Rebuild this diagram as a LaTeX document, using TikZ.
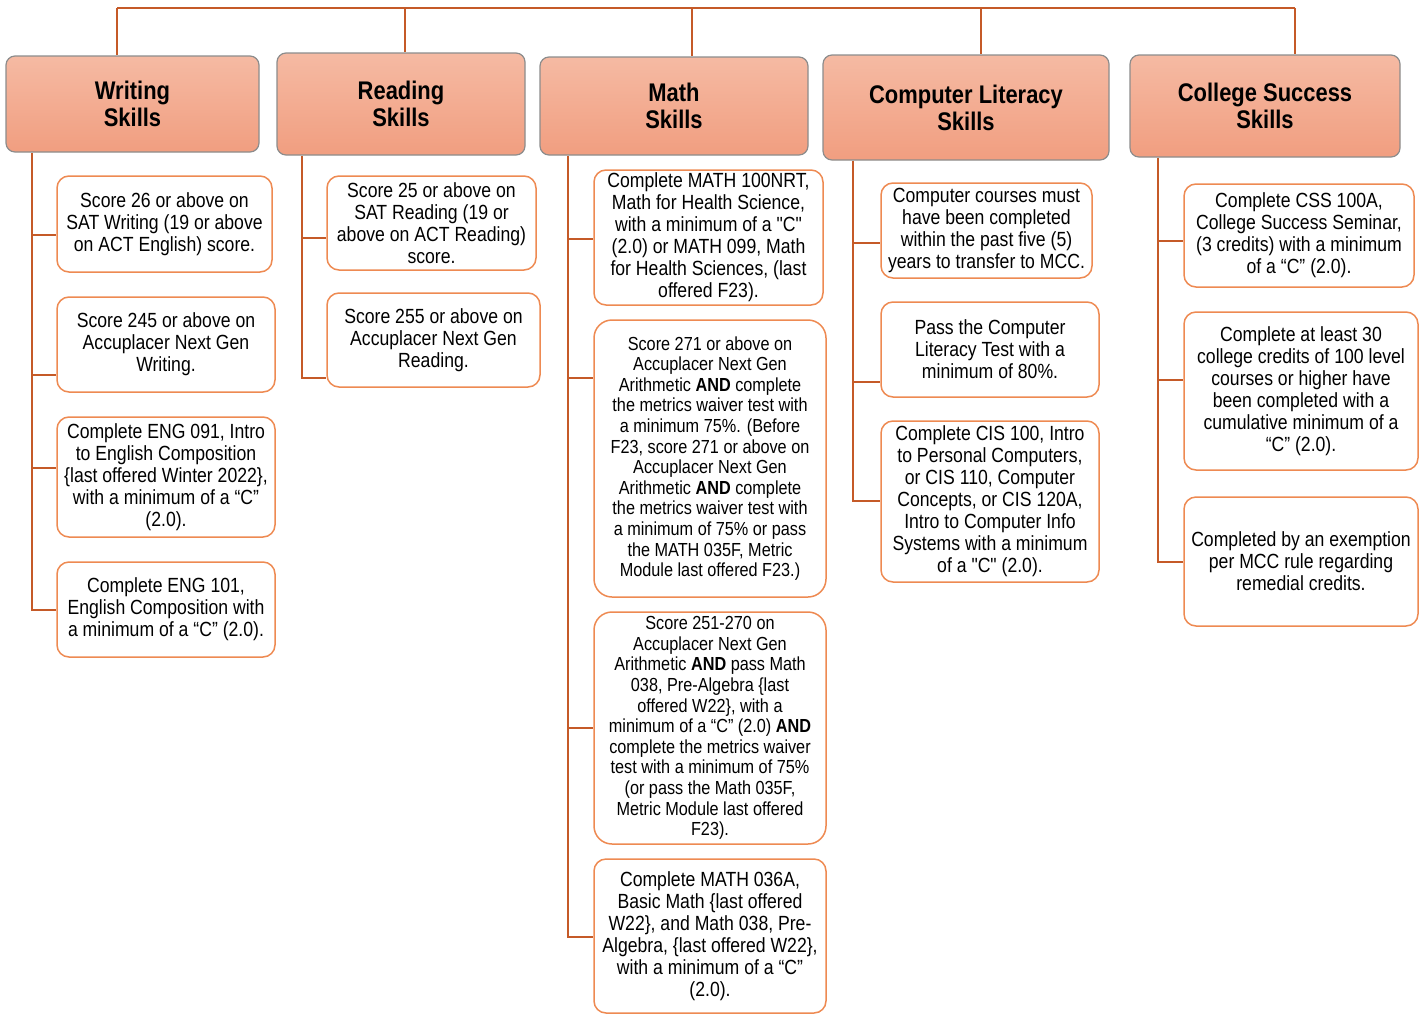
\documentclass[tikz,border=0pt]{standalone}
\usepackage{fontspec}
\setmainfont{Liberation Sans}[FakeStretch=0.86]
\newfontfamily\plainq{Liberation Sans}[FakeStretch=0.86]
\newcommand\sq{{\plainq"}}
\definecolor{linec}{HTML}{C55A28}
\definecolor{kidc}{HTML}{EE8A52}
\definecolor{hdrb}{HTML}{8C8C8C}
\definecolor{hdrt}{HTML}{F5BAA3}
\definecolor{hdrbot}{HTML}{F19E80}
\tikzset{
  x=1pt, y=-1pt,
  hdr/.style={draw=hdrb, line width=1.2pt, rounded corners=9pt, top color=hdrt, bottom color=hdrbot,
    font=\bfseries\fontsize{25.5}{27}\selectfont, align=center, inner sep=0pt},
  kid/.style={draw=kidc, line width=1.5pt, rounded corners=12pt, fill=white,
    font=\fontsize{20.5}{22}\selectfont, align=center, inner sep=0pt},
  kidsm/.style={kid, font=\fontsize{18.9}{20.6}\selectfont, rounded corners=18pt},
  conn/.style={draw=linec, line width=2.7pt},
  topconn/.style={draw=linec, line width=2pt},
}
\newcommand\boxat[7]{\node[#1, minimum width={#5pt-#3pt}, minimum height={#6pt-#4pt}] (#2) at ({(#3+#5)/2},{(#4+#6)/2}) {#7};}
\begin{document}
\begin{tikzpicture}
\useasboundingbox (0,0) rectangle (1424,1015);
% headers
\boxat{hdr}{hW}{6}{56}{259}{152}{Writing\\Skills}
\boxat{hdr}{hR}{277}{53}{525}{155}{Reading\\Skills}
\boxat{hdr}{hM}{540}{57}{808}{155}{Math\\Skills}
\boxat{hdr}{hC}{823}{55}{1109}{160}{Computer Literacy\\Skills}
\boxat{hdr}{hS}{1130}{55}{1400}{157}{College Success\\Skills}
% top connectors
\coordinate (tW) at (117,8);
\coordinate (tR) at (405,8);
\coordinate (tM) at (692,8);
\coordinate (tC) at (981,8);
\coordinate (tS) at (1295,8);
\draw[topconn] (tW) -- (tS);
\draw[topconn] (tW) -- (tW |- hW.north);
\draw[topconn] (tR) -- (tR |- hR.north);
\draw[topconn] (tM) -- (tM |- hM.north);
\draw[topconn] (tC) -- (tC |- hC.north);
\draw[topconn] (tS) -- (tS |- hS.north);
% writing
\boxat{kid}{w1}{57}{176}{272}{272}{Score 26 or above on\\SAT Writing (19 or above\\on ACT English) score.}
\boxat{kid}{w2}{57}{297}{275}{392}{Score 245 or above on\\Accuplacer Next Gen\\Writing.}
\boxat{kid}{w3}{57}{417}{275}{537}{Complete ENG 091, Intro\\to English Composition\\\{last offered Winter 2022\},\\with a minimum of a “C”\\(2.0).}
\boxat{kid}{w4}{57}{562}{275}{657}{Complete ENG 101,\\English Composition with\\a minimum of a “C” (2.0).}
% reading
\boxat{kid}{r1}{327}{176}{536}{270}{Score 25 or above on\\SAT Reading (19 or\\above on ACT Reading)\\score.}
\boxat{kid}{r2}{327}{293}{540}{387}{Score 255 or above on\\Accuplacer Next Gen\\Reading.}
% math
\boxat{kid}{m1}{594}{170}{823}{305}{Complete MATH 100NRT,\\Math for Health Science,\\with a minimum of a \sq C\sq\\(2.0) or MATH 099, Math\\for Health Sciences, (last\\offered F23).}
\boxat{kidsm}{m2}{594}{320}{826}{597}{Score 271 or above on\\Accuplacer Next Gen\\Arithmetic \textbf{AND} complete\\the metrics waiver test with\\a minimum 75\%. (Before\\F23, score 271 or above on\\Accuplacer Next Gen\\Arithmetic \textbf{AND} complete\\the metrics waiver test with\\a minimum of 75\% or pass\\the MATH 035F, Metric\\Module last offered F23.)}
\boxat{kidsm}{m3}{594}{612}{826}{844}{Score 251-270 on\\Accuplacer Next Gen\\Arithmetic \textbf{AND} pass Math\\038, Pre-Algebra \{last\\offered W22\}, with a\\minimum of a “C” (2.0) \textbf{AND}\\complete the metrics waiver\\test with a minimum of 75\%\\(or pass the Math 035F,\\Metric Module last offered\\F23).}
\boxat{kid}{m4}{594}{859}{826}{1013}{Complete MATH 036A,\\Basic Math \{last offered\\W22\}, and Math 038, Pre-\\Algebra, \{last offered W22\},\\with a minimum of a “C”\\(2.0).}
% computer
\boxat{kid}{c1}{881}{183}{1092}{278}{Computer courses must\\have been completed\\within the past five (5)\\years to transfer to MCC.}
\boxat{kid}{c2}{881}{302}{1099}{397}{Pass the Computer\\Literacy Test with a\\minimum of 80\%.}
\boxat{kid}{c3}{881}{421}{1099}{582}{Complete CIS 100, Intro\\to Personal Computers,\\or CIS 110, Computer\\Concepts, or CIS 120A,\\Intro to Computer Info\\Systems with a minimum\\of a \sq C\sq{} (2.0).}
% college
\boxat{kid}{s1}{1184}{184}{1414}{287}{Complete CSS 100A,\\College Success Seminar,\\(3 credits) with a minimum\\of a “C” (2.0).}
\boxat{kid}{s2}{1184}{312}{1418}{470}{Complete at least 30\\college credits of 100 level\\courses or higher have\\been completed with a\\cumulative minimum of a\\“C” (2.0).}
\boxat{kid}{s3}{1184}{497}{1418}{626}{Completed by an exemption\\per MCC rule regarding\\remedial credits.}
% column connectors
\coordinate (bW) at (32,0);
\draw[conn] (bW |- hW.south) -- (32,610) -- (w4.west |- 0,610);
\draw[conn] (bW |- 0,235) -- (w1.west |- 0,235);
\draw[conn] (bW |- 0,375) -- (w2.west |- 0,375);
\draw[conn] (bW |- 0,468) -- (w3.west |- 0,468);
\coordinate (bR) at (302,0);
\draw[conn] (bR |- hR.south) -- (302,378) -- (r2.west |- 0,378);
\draw[conn] (bR |- 0,238) -- (r1.west |- 0,238);
\coordinate (bM) at (568,0);
\draw[conn] (bM |- hM.south) -- (568,937) -- (m4.west |- 0,937);
\draw[conn] (bM |- 0,239) -- (m1.west |- 0,239);
\draw[conn] (bM |- 0,378) -- (m2.west |- 0,378);
\draw[conn] (bM |- 0,728) -- (m3.west |- 0,728);
\coordinate (bC) at (853,0);
\draw[conn] (bC |- hC.south) -- (853,501) -- (c3.west |- 0,501);
\draw[conn] (bC |- 0,243) -- (c1.west |- 0,243);
\draw[conn] (bC |- 0,382) -- (c2.west |- 0,382);
\coordinate (bS) at (1158,0);
\draw[conn] (bS |- hS.south) -- (1158,562) -- (s3.west |- 0,562);
\draw[conn] (bS |- 0,241) -- (s1.west |- 0,241);
\draw[conn] (bS |- 0,380) -- (s2.west |- 0,380);
\end{tikzpicture}
\end{document}
